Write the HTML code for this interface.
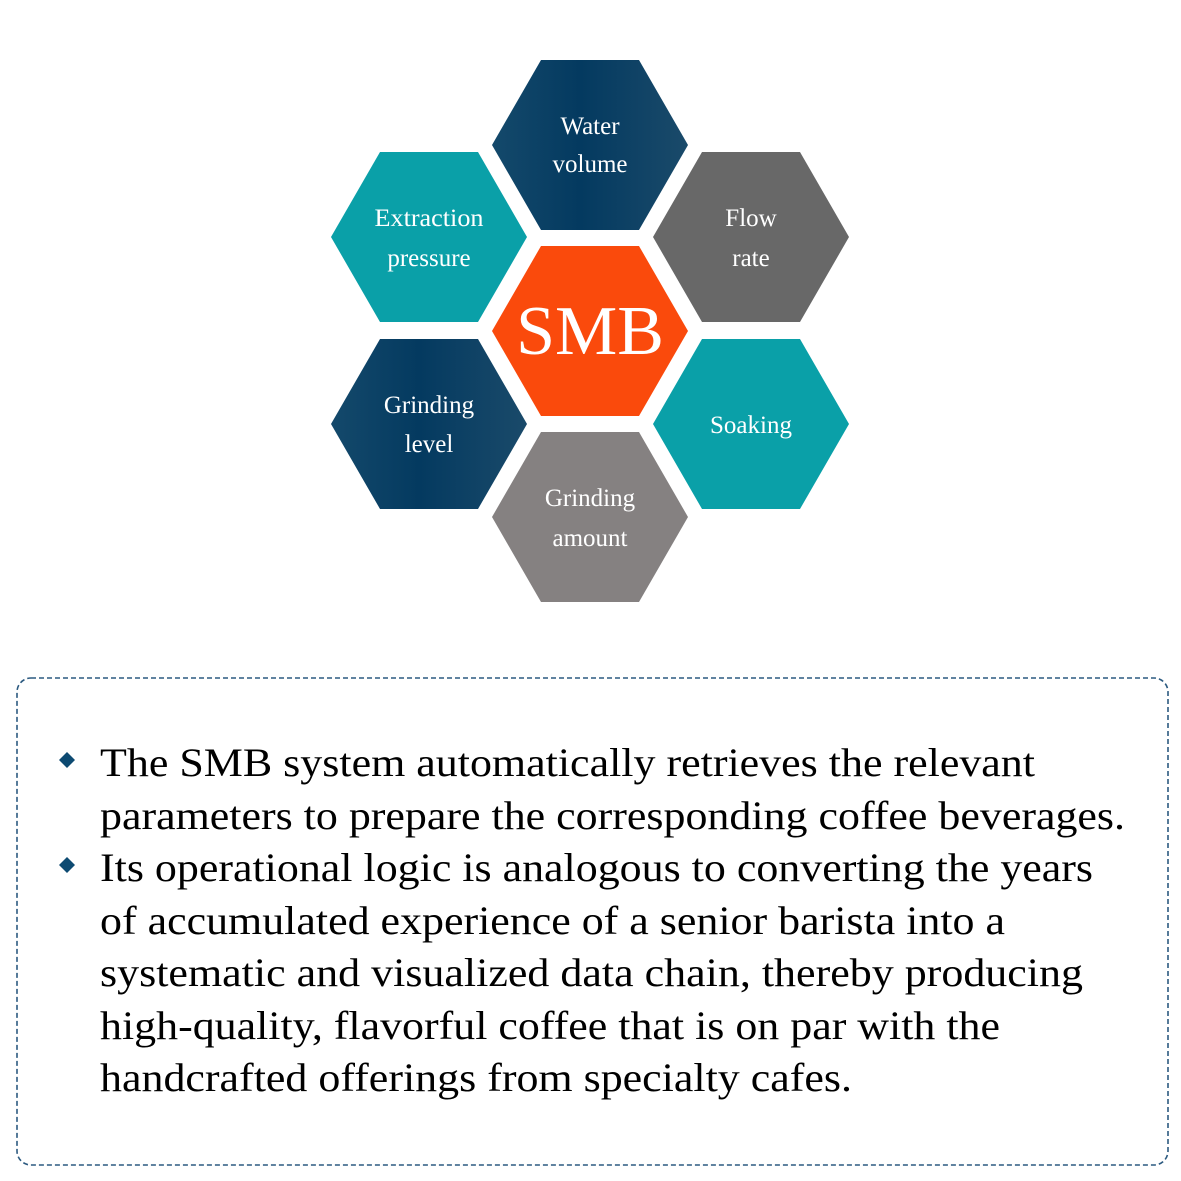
<!DOCTYPE html>
<html><head><meta charset="utf-8"><style>
body{margin:0;background:#fff;}
svg{display:block}
text{font-family:"Liberation Serif","Times New Roman",serif;}
</style></head><body>
<svg width="1181" height="1181" viewBox="0 0 1181 1181" xmlns="http://www.w3.org/2000/svg">
<defs>
<linearGradient id="db" x1="0" x2="1" y1="0" y2="0">
<stop offset="0" stop-color="#14496b"/><stop offset="0.45" stop-color="#043a60"/><stop offset="1" stop-color="#1a4a6a"/>
</linearGradient>
<polygon id="hx" points="-98,0 -49,-85 49,-85 98,0 49,85 -49,85"/>
</defs>
<g fill="#fff" text-anchor="middle" font-size="25">
<use href="#hx" x="590" y="145" fill="url(#db)"/>
<use href="#hx" x="429" y="237" fill="#0aa0a8"/>
<use href="#hx" x="751" y="237" fill="#686868"/>
<use href="#hx" x="590" y="331" fill="#fa4a0c"/>
<use href="#hx" x="429" y="424" fill="url(#db)"/>
<use href="#hx" x="751" y="424" fill="#0aa0a8"/>
<use href="#hx" x="590" y="517" fill="#858181"/>
<text x="590" y="134">Water</text><text x="590" y="172">volume</text>
<text x="429" y="226" textLength="109" lengthAdjust="spacingAndGlyphs">Extraction</text><text x="429" y="266">pressure</text>
<text x="751" y="226">Flow</text><text x="751" y="266">rate</text>
<text x="590" y="354" font-size="70">SMB</text>
<text x="429" y="413">Grinding</text><text x="429" y="452">level</text>
<text x="751" y="433">Soaking</text>
<text x="590" y="506">Grinding</text><text x="590" y="546">amount</text>
</g>
<rect x="17" y="678" width="1151" height="487" rx="14" fill="none" stroke="#2c5a80" stroke-width="1.6" stroke-dasharray="5,3"/>
<g fill="#0d4a72">
<polygon points="67,752 75,760 67,768 59,760"/>
<polygon points="67,857 75,865 67,873 59,865"/>
</g>
<g font-size="40" fill="#000" lengthAdjust="spacingAndGlyphs">
<text x="100" y="776" textLength="935" lengthAdjust="spacingAndGlyphs">The SMB system automatically retrieves the relevant</text>
<text x="100" y="829" textLength="1025" lengthAdjust="spacingAndGlyphs">parameters to prepare the corresponding coffee beverages.</text>
<text x="100" y="881" textLength="993" lengthAdjust="spacingAndGlyphs">Its operational logic is analogous to converting the years</text>
<text x="100" y="934" textLength="905" lengthAdjust="spacingAndGlyphs">of accumulated experience of a senior barista into a</text>
<text x="100" y="986" textLength="983" lengthAdjust="spacingAndGlyphs">systematic and visualized data chain, thereby producing</text>
<text x="100" y="1039" textLength="900" lengthAdjust="spacingAndGlyphs">high-quality, flavorful coffee that is on par with the</text>
<text x="100" y="1091" textLength="752" lengthAdjust="spacingAndGlyphs">handcrafted offerings from specialty cafes.</text>
</g>
</svg>
</body></html>
